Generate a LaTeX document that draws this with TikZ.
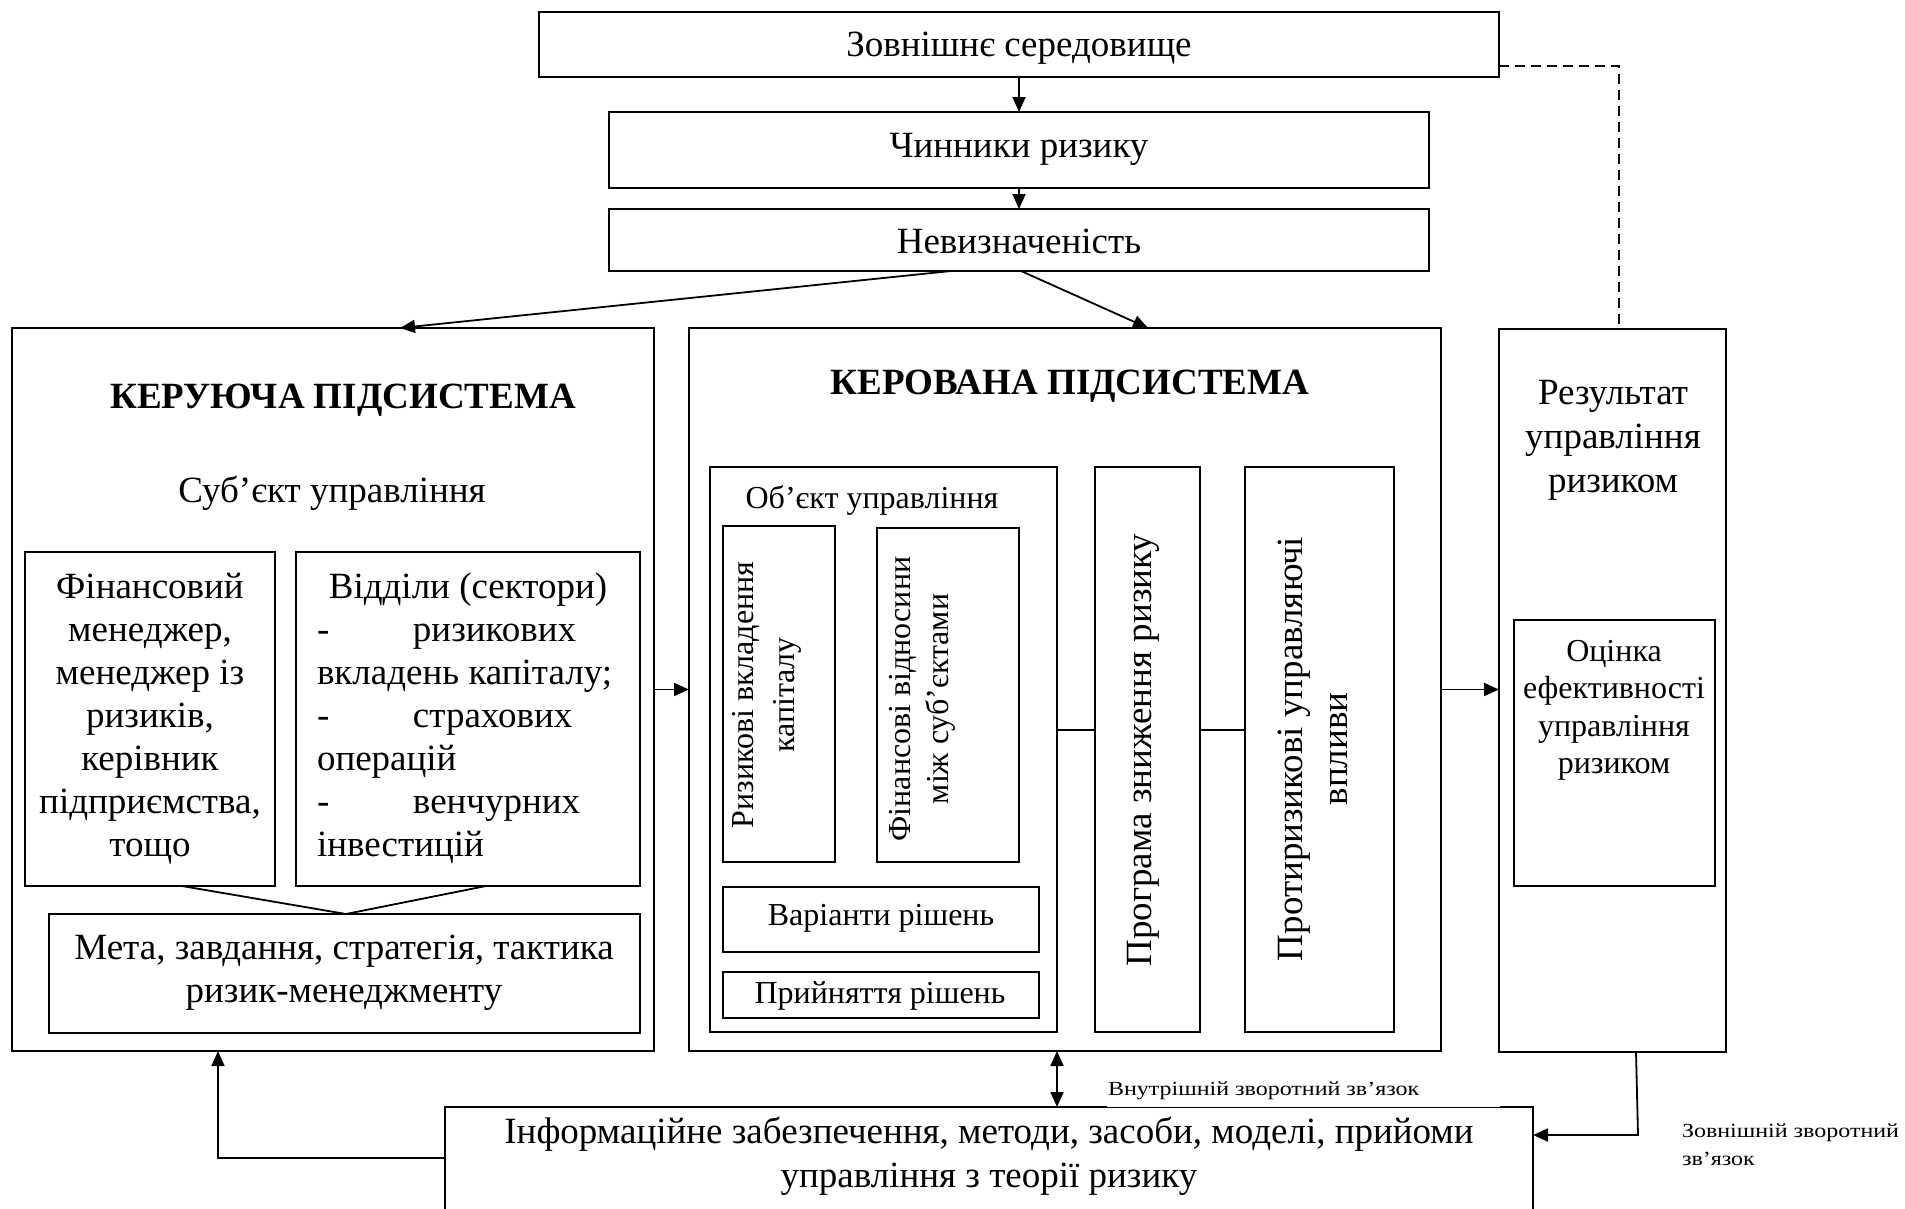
\documentclass[tikz,border=0pt]{standalone}
\usepackage{fontspec}
\setmainfont{Liberation Serif}
\newfontfamily\smallfnt[FakeStretch=1.2]{Liberation Serif}
\usetikzlibrary{arrows.meta,calc}
\tikzset{
  bx/.style={draw, line width=1.8pt, inner sep=0pt, outer sep=0pt},
  tx/.style={inner sep=0pt, outer sep=0pt},
  big/.style={font=\fontsize{37pt}{43pt}\selectfont},
  mid/.style={font=\fontsize{32pt}{37.6pt}\selectfont},
  ttl/.style={font=\fontsize{37pt}{43pt}\selectfont\bfseries},
  sml/.style={font=\smallfnt\fontsize{20pt}{28pt}\selectfont},
  ln/.style={line width=1.8pt},
  arr/.style={line width=1.8pt, -{Triangle[length=15pt,width=13pt]}},
  dbl/.style={line width=1.8pt, {Triangle[length=15pt,width=13pt]}-{Triangle[length=15pt,width=13pt]}},
  dsh/.style={line width=1.5pt, dash pattern=on 10pt off 6pt},
}
\newcommand\bxn[5]{\node[bx, minimum width={#4-#2}, minimum height={#5-#3}] (#1) at ({(#2+#4)/2},{(#3+#5)/2}) {};}
\begin{document}
\begin{tikzpicture}[x=1pt,y=-1pt]
\useasboundingbox (0,0) rectangle (1905,1208);
% top chain
\bxn{env}{539}{12}{1499}{77}
\node[tx,big,anchor=base] (envt) at (1019,56) {Зовнішнє середовище};
\bxn{fac}{609}{112}{1429}{188}
\node[tx,big,anchor=base] (fact) at (1019,157) {Чинники ризику};
\bxn{unc}{609}{209}{1429}{271}
\node[tx,big,anchor=base] (unct) at (1019,253) {Невизначеність};
% control subsystem
\bxn{ctrl}{12}{328}{654}{1051}
\node[tx,ttl,anchor=base] (ctrlt) at (343,408) {КЕРУЮЧА ПІДСИСТЕМА};
\node[tx,big,anchor=base] (subj) at (332,502) {Суб’єкт управління};
\bxn{fin}{25}{552}{275}{886}
\node[tx,big,anchor=north,align=center] (fint) at (150,568) {\rule{0pt}{30pt}Фінансовий\\менеджер,\\менеджер із\\ризиків,\\керівник\\підприємства,\\тощо};
\bxn{dep}{296}{552}{640}{886}
\node[tx,big,anchor=base] (dep1) at (468,598) {Відділи (сектори)};
\node[tx,big,anchor=north west,align=left] (dept) at (317,611) {\rule{0pt}{30pt}\makebox[96pt][l]{-}ризикових\\вкладень капіталу;\\\makebox[96pt][l]{-}страхових\\операцій\\\makebox[96pt][l]{-}венчурних\\інвестицій};
\bxn{goal}{49}{914}{640}{1033}
\node[tx,big,anchor=north,align=center] (goalt) at (344,929) {\rule{0pt}{30pt}Мета, завдання, стратегія, тактика\\ризик-менеджменту};
\coordinate (apex) at ($(goal.north west)+(297,0)$);
\draw[ln] ($(fin.south west)+(157,0)$) -- (apex) -- ($(dep.south west)+(190,0)$);
% managed subsystem
\bxn{man}{689}{328}{1441}{1051}
\node[tx,ttl,anchor=base] (mant) at (1070,394) {КЕРОВАНА ПІДСИСТЕМА};
\bxn{obj}{710}{467}{1057}{1032}
\node[tx,mid,anchor=base] (objt) at (872,508) {Об’єкт управління};
\bxn{riz}{723}{526}{835}{862}
\node[tx,anchor=north,rotate=90,align=center,font=\fontsize{32pt}{41pt}\selectfont] (rizt) at (727,695) {\rule{0pt}{26pt}Ризикові вкладення\\капіталу};
\bxn{fr}{877}{528}{1019}{862}
\node[tx,anchor=north,rotate=90,align=center,font=\fontsize{32pt}{38pt}\selectfont] (frt) at (884,699) {\rule{0pt}{26pt}Фінансові відносини\\між суб’єктами};
\bxn{var}{723}{887}{1039}{952}
\node[tx,mid,anchor=base] (vart) at (881,925) {Варіанти рішень};
\bxn{dec}{723}{972}{1039}{1018}
\node[tx,mid,anchor=base] (dect) at (880,1003) {Прийняття рішень};
\draw[ln] ($(riz.south)+(8,0)$) -- ($(riz.south)+(8,0)$ |- var.north);
\draw[ln] ($(fr.south)+(-15,0)$) -- ($(fr.south)+(-15,0)$ |- var.north);
\draw[ln] ($(var.south)+(-4,0)$) -- ($(var.south)+(-4,0)$ |- dec.north);
\bxn{prog}{1095}{467}{1200}{1032}
\node[tx,big,anchor=base,rotate=90] (progt) at (1151,750) {Програма зниження ризику};
\bxn{anti}{1245}{467}{1394}{1032}
\node[tx,anchor=north,rotate=90,align=center,font=\fontsize{37pt}{45pt}\selectfont] (antit) at (1272,749) {\rule{0pt}{30pt}Протиризикові управляючі\\впливи};
\draw[ln] ($(obj.east)+(0,-19.5)$) -- ($(prog.west)+(0,-19.5)$);
\draw[ln] ($(prog.east)+(0,-19.5)$) -- ($(anti.west)+(0,-19.5)$);
% result
\bxn{res}{1499}{329}{1726}{1052}
\node[tx,anchor=north,align=center,font=\fontsize{37pt}{44pt}\selectfont] (rest) at (1613,374) {\rule{0pt}{30pt}Результат\\управління\\ризиком};
\bxn{eval}{1514}{620}{1715}{886}
\node[tx,mid,anchor=north,align=center] (evalt) at (1614,635) {\rule{0pt}{26pt}Оцінка\\ефективності\\управління\\ризиком};
% info
\bxn{info}{445}{1107}{1533}{1240}
\fill[white] (1107,1104.5) rectangle (1500,1106.6);
\node[tx,anchor=north,align=center,font=\fontsize{37pt}{44pt}\selectfont] (infot) at (989,1113) {\rule{0pt}{30pt}Інформаційне забезпечення, методи, засоби, моделі, прийоми\\управління з теорії ризику};
% connectors
\draw[arr] (env.south) -- (fac.north);
\draw[arr] (fac.south) -- (unc.north);
\draw[arr] ($(unc.south west)+(342,0)$) -- ($(ctrl.north west)+(388,0)$);
\draw[arr] ($(unc.south west)+(412,0)$) -- ($(man.north west)+(459,0)$);
\draw[arr] (ctrl.east) -- (man.west);
\draw[arr] (man.east) -- (man.east -| res.west);
\coordinate (dc) at ($(res.north west)+(120,-263)$);
\draw[dsh] (env.east |- dc) -- (dc) -- (dc |- res.north);
\coordinate (fb1) at ($(res.south west)+(139,83)$);
\draw[arr] ($(res.south west)+(137,0)$) -- (fb1) -- (fb1 -| info.east);
\coordinate (fb2) at ($(ctrl.south west)+(206,107)$);
\draw[arr] (fb2 -| info.west) -- (fb2) -- (fb2 |- ctrl.south);
\draw[dbl] ($(man.south west)+(368,0)$) -- ($(info.north west)+(612,0)$);
% labels
\node[tx,sml,anchor=base west] (inl) at (1108,1095) {Внутрішній зворотний зв’язок};
\node[tx,sml,anchor=north west,align=left] (exl) at (1682,1121) {\rule{0pt}{16pt}Зовнішній зворотний\\зв’язок};
\end{tikzpicture}
\end{document}
